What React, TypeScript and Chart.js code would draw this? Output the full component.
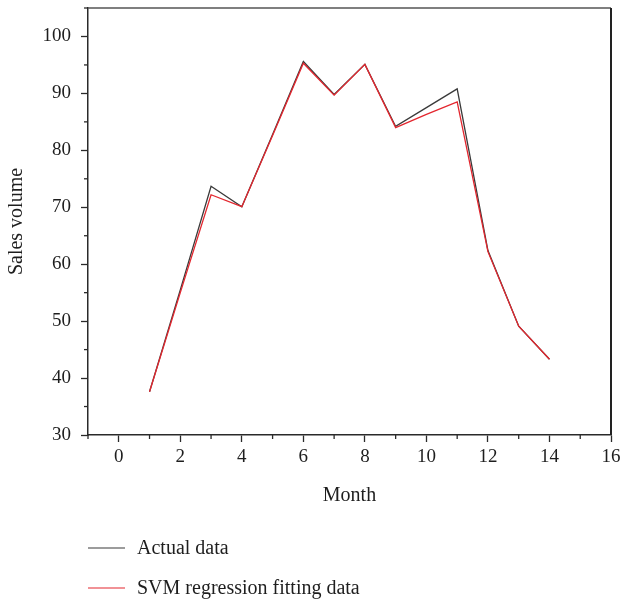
import React, { useEffect, useRef } from 'react';
import { Chart, registerables } from 'chart.js';

Chart.register(...registerables);

// ---- data ----
const months = [1, 2, 3, 4, 5, 6, 7, 8, 9, 10, 11, 12, 13, 14];
const actualData = [37.6, 55.5, 73.7, 70.1, 82.8, 95.6, 89.8, 95.1, 84.2, 87.5, 90.8, 62.4, 49.1, 43.3];
const svmData = [37.6, 55.0, 72.2, 70.1, 82.6, 95.3, 89.7, 95.1, 84.0, 86.3, 88.5, 62.2, 49.1, 43.3];
const seriesLabels = ['Actual data', 'SVM regression fitting data'];
const seriesColors = ['#3a3a3a', '#e3262e'];
const xMajorTicks = [0, 2, 4, 6, 8, 10, 12, 14, 16];
const xMinorTicks = [-1, 1, 3, 5, 7, 9, 11, 13, 15];
const yMajorTicks = [30, 40, 50, 60, 70, 80, 90, 100];
const yMinorTicks = [35, 45, 55, 65, 75, 85, 95, 105];
const xTitle = 'Month';
const yTitle = 'Sales volume';

const FONT = "'Liberation Serif', 'Times New Roman', serif";
const AXIS_COLOR = '#2a2a2a';
const TEXT_COLOR = '#1e1e1e';

const decorPlugin = {
  id: 'decor',
  afterDraw(chart: any) {
    const { ctx, chartArea } = chart;
    const xs = chart.scales.x;
    const ys = chart.scales.y;
    ctx.save();
    // frame top and right
    ctx.strokeStyle = '#555';
    ctx.lineWidth = 1.5;
    ctx.beginPath();
    ctx.moveTo(chartArea.left, chartArea.top);
    ctx.lineTo(chartArea.right, chartArea.top);
    ctx.stroke();
    ctx.strokeStyle = '#222';
    ctx.lineWidth = 2;
    ctx.beginPath();
    ctx.moveTo(chartArea.right, chartArea.top);
    ctx.lineTo(chartArea.right, chartArea.bottom);
    ctx.stroke();
    // minor ticks
    ctx.strokeStyle = AXIS_COLOR;
    ctx.lineWidth = 1.3;
    xMinorTicks.forEach((v) => {
      const px = xs.getPixelForValue(v);
      ctx.beginPath();
      ctx.moveTo(px, chartArea.bottom);
      ctx.lineTo(px, chartArea.bottom + 4);
      ctx.stroke();
    });
    yMinorTicks.forEach((v) => {
      const py = ys.getPixelForValue(v);
      ctx.beginPath();
      ctx.moveTo(chartArea.left, py);
      ctx.lineTo(chartArea.left - 4, py);
      ctx.stroke();
    });
    // legend
    ctx.font = `20px ${FONT}`;
    ctx.textBaseline = 'middle';
    ctx.textAlign = 'left';
    chart.data.datasets.forEach((ds: any, i: number) => {
      const y = 548 + i * 40;
      ctx.strokeStyle = ds.borderColor;
      ctx.lineWidth = 1.2;
      ctx.beginPath();
      ctx.moveTo(88, y);
      ctx.lineTo(125, y);
      ctx.stroke();
      ctx.fillStyle = TEXT_COLOR;
      ctx.fillText(ds.label, 137, y + 1);
    });
    ctx.restore();
  },
};

export default function App() {
  const canvasRef = useRef<HTMLCanvasElement | null>(null);

  useEffect(() => {
    if (!canvasRef.current) return;
    const datasets = [actualData, svmData].map((vals, i) => ({
      label: seriesLabels[i],
      data: months.map((m, j) => ({ x: m, y: vals[j] })),
      borderColor: seriesColors[i],
      backgroundColor: seriesColors[i],
      borderWidth: 1.3,
      pointRadius: 0,
      tension: 0,
      fill: false,
      order: i === 0 ? 1 : 0,
    }));
    const chart = new Chart(canvasRef.current, {
      type: 'line',
      data: { datasets },
      options: {
        animation: false,
        responsive: false,
        devicePixelRatio: 1,
        layout: { padding: { top: 8, right: 11, bottom: 83, left: 0 } },
        plugins: {
          legend: { display: false },
          tooltip: { enabled: false },
        },
        scales: {
          x: {
            type: 'linear',
            min: -1,
            max: 16,
            afterBuildTicks: (scale: any) => {
              scale.ticks = xMajorTicks.map((v) => ({ value: v }));
            },
            afterFit: (scale: any) => {
              scale.height = 85;
              scale.paddingLeft = 0;
              scale.paddingRight = 0;
            },
            grid: {
              display: true,
              drawOnChartArea: false,
              drawTicks: true,
              tickLength: 7,
              tickColor: AXIS_COLOR,
              tickWidth: 1.3,
            },
            border: { display: true, color: AXIS_COLOR, width: 1.5 },
            ticks: {
              padding: 4,
              maxRotation: 0,
              autoSkip: false,
              color: TEXT_COLOR,
              font: { family: FONT, size: 19 },
            },
            title: {
              display: true,
              text: xTitle,
              color: TEXT_COLOR,
              font: { family: FONT, size: 20 },
              padding: { top: 0, bottom: 12 },
            },
          },
          y: {
            type: 'linear',
            min: 30,
            max: 105,
            afterBuildTicks: (scale: any) => {
              scale.ticks = yMajorTicks.map((v) => ({ value: v }));
            },
            afterFit: (scale: any) => {
              scale.width = 88;
              scale.paddingTop = 0;
              scale.paddingBottom = 0;
            },
            grid: {
              display: true,
              drawOnChartArea: false,
              drawTicks: true,
              tickLength: 7,
              tickColor: AXIS_COLOR,
              tickWidth: 1.3,
            },
            border: { display: true, color: AXIS_COLOR, width: 1.5 },
            ticks: {
              padding: 10,
              autoSkip: false,
              color: TEXT_COLOR,
              font: { family: FONT, size: 19 },
            },
            title: {
              display: true,
              text: yTitle,
              color: TEXT_COLOR,
              font: { family: FONT, size: 20 },
              padding: { top: 5, bottom: 0 },
            },
          },
        },
      },
      plugins: [decorPlugin],
    } as any);
    return () => chart.destroy();
  }, []);

  return (
    <div style={{ position: 'absolute', left: 0, top: 0, width: 622, height: 603, background: '#fff' }}>
      <canvas ref={canvasRef} width={622} height={603} style={{ display: 'block', width: 622, height: 603 }} />
    </div>
  );
}
